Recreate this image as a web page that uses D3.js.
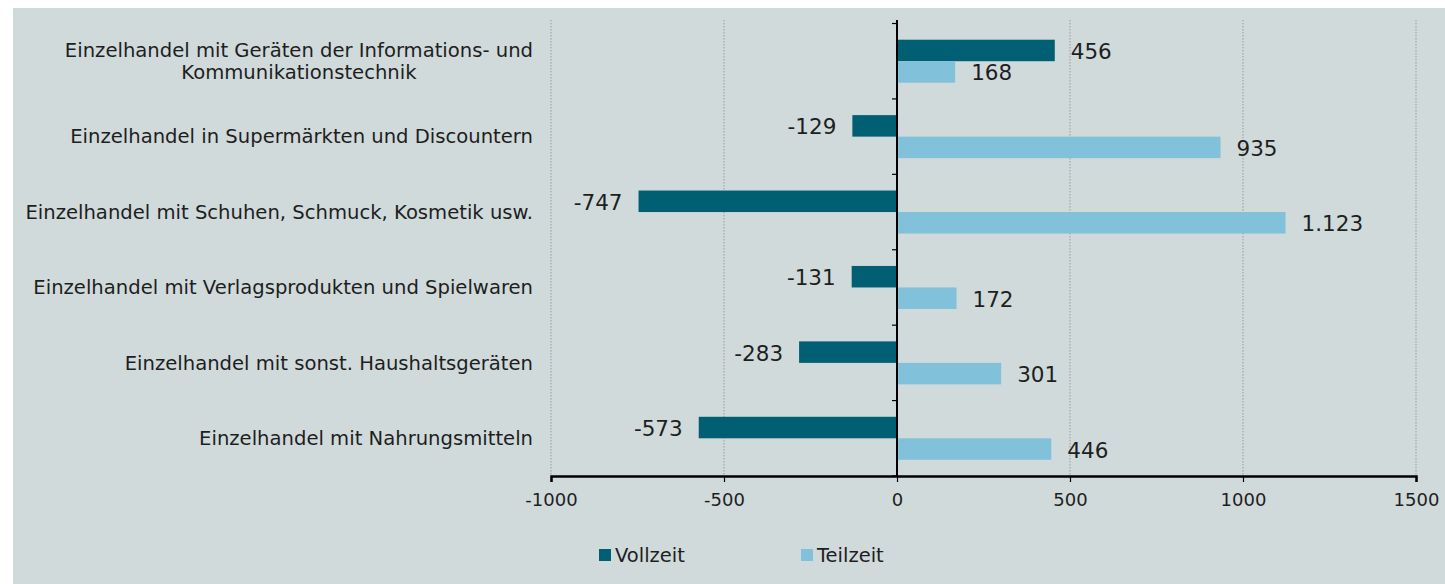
<!DOCTYPE html>
<html>
<head>
<meta charset="utf-8">
<script src="https://cdn.jsdelivr.net/npm/d3@7"></script>
<style>
  body { margin: 0; background: #fff; }
  text { font-family: "DejaVu Sans", sans-serif; fill: #1e1e1e; }
</style>
</head>
<body>
<script>
// data
var categories = [
  ["Einzelhandel mit Geräten der Informations- und", "Kommunikationstechnik"],
  ["Einzelhandel in Supermärkten und Discountern"],
  ["Einzelhandel mit Schuhen, Schmuck, Kosmetik usw."],
  ["Einzelhandel mit Verlagsprodukten und Spielwaren"],
  ["Einzelhandel mit sonst. Haushaltsgeräten"],
  ["Einzelhandel mit Nahrungsmitteln"]
];
var vollzeit = [456, -129, -747, -131, -283, -573];
var teilzeit = [168, 935, 1123, 172, 301, 446];
var seriesNames = ["Vollzeit", "Teilzeit"];
var colors = ["#005f73", "#82c1da"];
var xTicks = [-1000, -500, 0, 500, 1000, 1500];

var W = 1445, H = 584;
var svg = d3.select("body").append("svg").attr("width", W).attr("height", H);

svg.append("rect").attr("x", 13).attr("y", 8).attr("width", W - 13).attr("height", H - 8)
  .attr("fill", "#d0dadb");

var x = d3.scaleLinear().domain([-1000, 1500]).range([551, 1416]);
var y = d3.scaleBand().domain(d3.range(categories.length)).range([23.5, 476]);
// bar pair occupies ~43px of ~75px band
var barH = 21.5;
var pairTop = function(i) { return y(i) + (y.bandwidth() - 2 * barH) / 2; };

// grid
svg.append("g").selectAll("line").data(xTicks.filter(function(d){ return d !== 0; }))
  .enter().append("line")
  .attr("x1", function(d){ return x(d); }).attr("x2", function(d){ return x(d); })
  .attr("y1", 20).attr("y2", 476)
  .attr("stroke", "#9a9a9a").attr("stroke-width", 1).attr("stroke-dasharray", "1.5,1.5");

// bars
var series = [vollzeit, teilzeit];
series.forEach(function(vals, s) {
  svg.append("g").selectAll("rect").data(vals).enter().append("rect")
    .attr("x", function(d){ return x(Math.min(0, d)); })
    .attr("y", function(d, i){ return pairTop(i) + s * barH; })
    .attr("width", function(d){ return Math.abs(x(d) - x(0)); })
    .attr("height", barH)
    .attr("fill", colors[s]);

  svg.append("g").selectAll("text").data(vals).enter().append("text")
    .attr("x", function(d){ return d >= 0 ? x(d) + 16 : x(d) - 16; })
    .attr("y", function(d, i){ return pairTop(i) + s * barH + barH / 2 + 1; })
    .attr("dy", "0.35em")
    .attr("text-anchor", function(d){ return d >= 0 ? "start" : "end"; })
    .style("font-size", "21.5px")
    .text(function(d){ return d3.format(",")(d).replace(/,/g, ".").replace("\u2212", "-"); });
});

// x axis
var xAxis = svg.append("g").attr("transform", "translate(0,476)")
  .call(d3.axisBottom(x).tickValues(xTicks).tickSize(6).tickFormat(function(d){ return String(d); }));
xAxis.select(".domain").attr("stroke", "#000").attr("stroke-width", 2.5);
xAxis.selectAll(".tick line").attr("stroke", "#000").attr("stroke-width", 1.2);
xAxis.selectAll(".tick text").attr("y", 17).style("font-size", "18px").style("font-family", "DejaVu Sans").attr("fill", "#1e1e1e");

// y axis at zero
svg.append("line").attr("x1", x(0)).attr("x2", x(0)).attr("y1", 20).attr("y2", 476)
  .attr("stroke", "#000").attr("stroke-width", 2);
var bounds = d3.range(categories.length + 1).map(function(i){ return 23.5 + i * y.bandwidth(); });
svg.append("g").selectAll("line").data(bounds).enter().append("line")
  .attr("x1", x(0) - 5).attr("x2", x(0))
  .attr("y1", function(d){ return d; }).attr("y2", function(d){ return d; })
  .attr("stroke", "#000").attr("stroke-width", 1.2);

// category labels
var labelRight = 533;
categories.forEach(function(lines, i) {
  var cy = y(i) + y.bandwidth() / 2;
  var t = svg.append("text").attr("text-anchor", "middle").style("font-size", "19.6px");
  lines.forEach(function(l, k) {
    t.append("tspan").attr("x", 0)
      .attr("y", cy + (k - (lines.length - 1) / 2) * 22.5)
      .attr("dy", "0.35em").text(l);
  });
  var w = t.node().getBBox().width;
  t.attr("transform", "translate(" + (labelRight - w / 2) + ",0)");
});

// legend
var legendX = [599, 801];
seriesNames.forEach(function(n, s) {
  svg.append("rect").attr("x", legendX[s]).attr("y", 549).attr("width", 12).attr("height", 12).attr("fill", colors[s]);
  svg.append("text").attr("x", legendX[s] + 16).attr("y", 555).attr("dy", "0.35em")
    .style("font-size", "19.5px").text(n);
});
</script>
</body>
</html>
